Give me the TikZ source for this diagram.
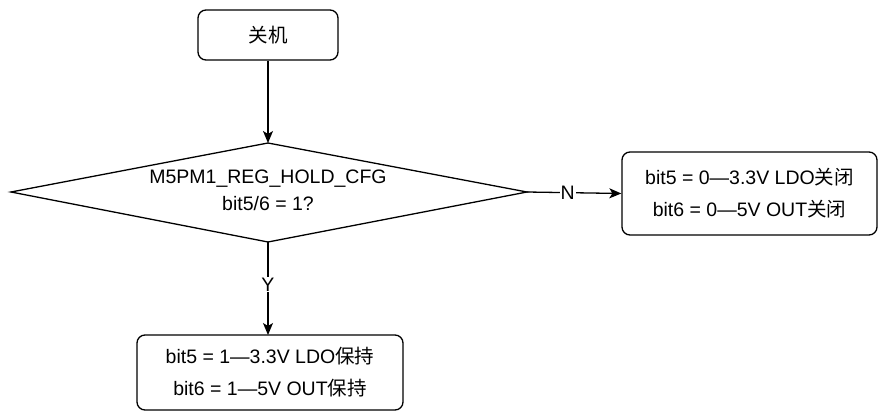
\documentclass[tikz,border=0pt]{standalone}
\usepackage{fontspec}
\setmainfont{Liberation Sans}
\newfontfamily\cjk{Noto Sans CJK SC}
\usetikzlibrary{shapes.geometric,arrows.meta}
\begin{document}
\begin{tikzpicture}[x=1pt,y=-1pt,
  every node/.style={font=\fontsize{19.5}{32}\selectfont},
  box/.style={draw,line width=1.3pt,rounded corners=8pt,align=center,inner sep=0pt},
  flow/.style={line width=1.3pt,-{Stealth[length=12pt,width=10pt,inset=3pt]}},
  lbl/.style={fill=white,inner sep=1pt}]
\useasboundingbox (0,0) rectangle (878,412);
% start box
\node[box,minimum width=140pt,minimum height=50pt] (off) at (268,35) {{\cjk 关机}};
% decision diamond
\draw[line width=1.3pt] (11,192) coordinate (dl) -- (268,143) coordinate (dt)
  -- (527,192) coordinate (dr) -- (268,242) coordinate (db) -- cycle;
\node[align=center,font=\fontsize{19.5}{27}\selectfont] (q) at (268,190)
  {M5PM1\_REG\_HOLD\_CFG\\bit5/6 = 1?};
% outcome boxes
\node[box,minimum width=255pt,minimum height=83pt] (no) at (749.5,193.5)
  {bit5 = 0—3.3V LDO{\cjk 关闭}\\bit6 = 0—5V OUT{\cjk 关闭}};
\node[box,minimum width=266pt,minimum height=75pt] (yes) at (270,372.5)
  {bit5 = 1—3.3V LDO{\cjk 保持}\\bit6 = 1—5V OUT{\cjk 保持}};
% connectors
\draw[flow] (off.south) -- (dt);
\draw[flow] (dr) -- node[lbl,pos=0.43] {N} (no.west);
\draw[flow] (db) -- node[lbl,pos=0.46] {Y} (268,335);
\end{tikzpicture}
\end{document}
